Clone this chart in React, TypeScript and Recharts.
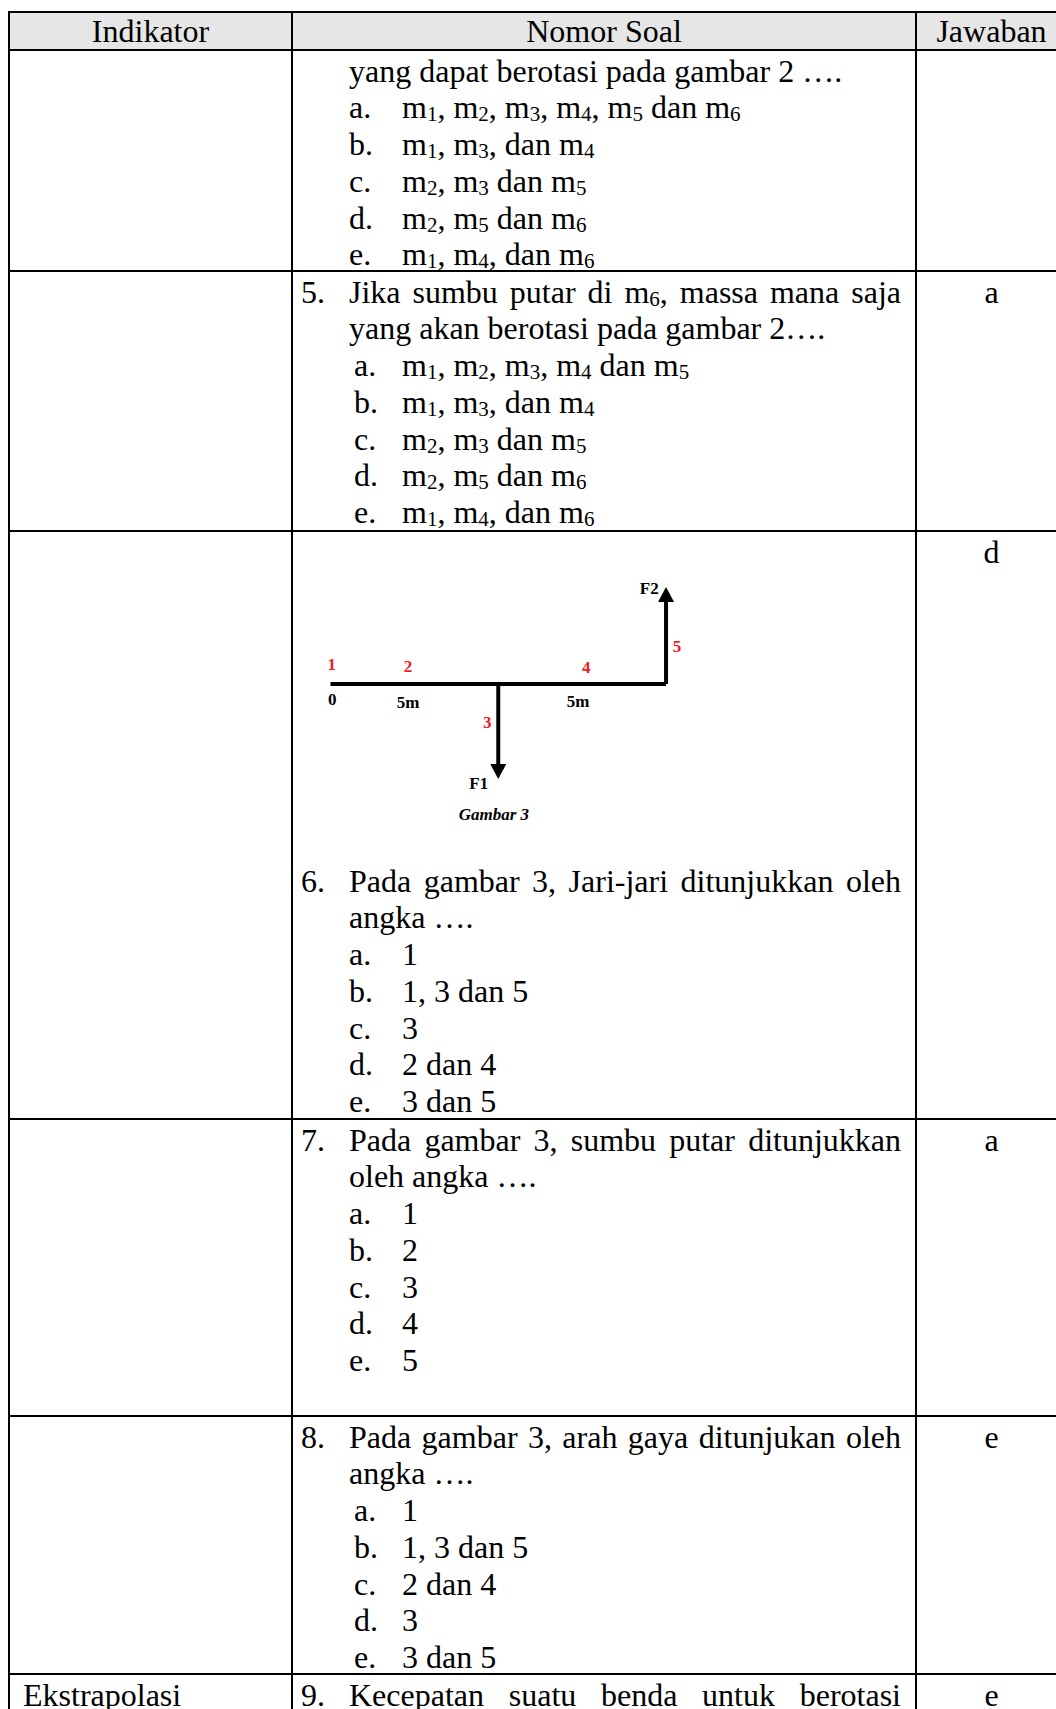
import { FC, ReactNode } from "react";
import { ComposedChart, Line, Scatter, XAxis, YAxis } from "recharts";

// table text
const headers = ["Indikator", "Nomor Soal", "Jawaban"];
const indicators = ["", "", "", "", "", "Ekstrapolasi"];
const answers = ["", "a", "d", "a", "e", "e"];
const numbers = ["", "5.", "6.", "7.", "8.", "9."];
const stems = [
    ["yang dapat berotasi pada gambar 2 …."],
    ["Jika sumbu putar di m6, massa mana saja", "yang akan berotasi pada gambar 2…."],
    ["Pada gambar 3, Jari-jari ditunjukkan oleh", "angka …."],
    ["Pada gambar 3, sumbu putar ditunjukkan", "oleh angka …."],
    ["Pada gambar 3, arah gaya ditunjukan oleh", "angka …."],
    ["Kecepatan suatu benda untuk berotasi"],
];
const optionLetters = ["a.", "b.", "c.", "d.", "e."];
const options = [
    ["m1, m2, m3, m4, m5 dan m6", "m1, m3, dan m4", "m2, m3 dan m5", "m2, m5 dan m6", "m1, m4, dan m6"],
    ["m1, m2, m3, m4 dan m5", "m1, m3, dan m4", "m2, m3 dan m5", "m2, m5 dan m6", "m1, m4, dan m6"],
    ["1", "1, 3 dan 5", "3", "2 dan 4", "3 dan 5"],
    ["1", "2", "3", "4", "5"],
    ["1", "1, 3 dan 5", "2 dan 4", "3", "3 dan 5"],
    [],
];
const optionIndent = [56, 61, 56, 56, 61, 56];
const rowHeights = [219, 258, 586, 295, 256, 58];

// figure data, in metres along the beam
const beam = [{ x: 0, y: 0 }, { x: 10, y: 0 }];
const stem = [{ x: 5, y: 0 }, { x: 5, y: -2.6 }];
const arm = [{ x: 10, y: 0 }, { x: 10, y: 2.6 }];
const arrowTips = [{ x: 5, y: -2.83, dir: 1 }, { x: 10, y: 2.89, dir: -1 }];
const redLabels = [
    { x: 0.04, y: 0.6, text: "1" },
    { x: 2.31, y: 0.52, text: "2" },
    { x: 4.67, y: -1.14, text: "3" },
    { x: 7.62, y: 0.49, text: "4" },
    { x: 10.33, y: 1.13, text: "5" },
];
const blackLabels = [
    { x: 0.05, y: -0.45, text: "0" },
    { x: 2.31, y: -0.55, text: "5m" },
    { x: 7.38, y: -0.52, text: "5m" },
    { x: 4.42, y: -2.95, text: "F1" },
    { x: 9.5, y: 2.87, text: "F2" },
];
const captionLabels = [{ x: 4.87, y: -3.87, text: "Gambar 3" }];

const FONT = '"Liberation Serif", "Times New Roman", serif';
const LINE = 36.8;

const withSubs = (text: string): ReactNode[] =>
    text.split(/(?<=m)(\d)/).map((part, i) =>
        i % 2 === 1 ? <span key={i} style={{ fontSize: 21, verticalAlign: -3, lineHeight: 0 }}>{part}</span> : part
    );

const labelShape = (fill: string, size: number, italic = false) => (props: any) => (
    <text x={props.cx} y={props.cy} dy="0.35em" textAnchor="middle" fill={fill} fontSize={size}
        fontFamily={FONT} fontWeight="bold" fontStyle={italic ? "italic" : "normal"}>
        {props.payload.text}
    </text>
);

const arrowShape = (props: any) => {
    const { cx, cy, payload } = props;
    const d = payload.dir;
    return <path d={`M${cx},${cy} L${cx - 8},${cy - 15 * d} L${cx + 8},${cy - 15 * d} Z`} fill="#000" />;
};

const Figure: FC = () => (
    <ComposedChart width={420} height={300} margin={{ top: 0, right: 0, bottom: 0, left: 0 }}>
        <XAxis dataKey="x" type="number" domain={[-1.177, 11.34]} hide />
        <YAxis dataKey="y" type="number" domain={[-4.68, 4.262]} hide />
        <Line data={beam} dataKey="y" stroke="#000" strokeWidth={4} dot={false} isAnimationActive={false} />
        <Line data={stem} dataKey="y" stroke="#000" strokeWidth={4} dot={false} isAnimationActive={false} />
        <Line data={arm} dataKey="y" stroke="#000" strokeWidth={4} dot={false} isAnimationActive={false} />
        <Scatter data={arrowTips} shape={arrowShape} isAnimationActive={false} />
        <Scatter data={redLabels} shape={labelShape("#f01c24", 17)} isAnimationActive={false} />
        <Scatter data={blackLabels} shape={labelShape("#000", 17)} isAnimationActive={false} />
        <Scatter data={captionLabels} shape={labelShape("#000", 17, true)} isAnimationActive={false} />
    </ComposedChart>
);

const Question: FC<{ row: number }> = ({ row }) => (
    <div>
        {stems[row].map((line, i) => {
            const justified = i === 0 && numbers[row] !== "";
            return (
                <div key={i} style={{ position: "relative", height: LINE, paddingLeft: 56 }}>
                    {i === 0 && <span style={{ position: "absolute", left: 8 }}>{numbers[row]}</span>}
                    <div style={{
                        width: 552,
                        textAlign: justified ? "justify" : "left",
                        textAlignLast: justified ? "justify" : "left",
                    }}>
                        {withSubs(line)}
                    </div>
                </div>
            );
        })}
        {options[row].map((opt, i) => (
            <div key={i} style={{ position: "relative", height: LINE }}>
                <span style={{ position: "absolute", left: optionIndent[row] }}>{optionLetters[i]}</span>
                <span style={{ position: "absolute", left: 109 }}>{withSubs(opt)}</span>
            </div>
        ))}
    </div>
);

const App: FC = () => {
    const cell = { border: "2px solid #000", padding: 0, verticalAlign: "top" } as const;
    return (
        <div style={{
            position: "absolute", left: 0, top: 0, width: 1056, height: 1709, overflow: "hidden",
            background: "#fff", color: "#000", fontFamily: FONT, fontSize: 32, lineHeight: "37px",
        }}>
            <table style={{
                position: "absolute", left: 8, top: 11, width: 1058, borderCollapse: "collapse", tableLayout: "fixed",
            }}>
                <colgroup>
                    <col style={{ width: 283 }} />
                    <col style={{ width: 624 }} />
                    <col style={{ width: 151 }} />
                </colgroup>
                <thead>
                    <tr style={{ background: "#e7e6e6" }}>
                        {headers.map((h) => (
                            <th key={h} style={{ ...cell, fontWeight: "normal", textAlign: "center", lineHeight: "36px" }}>{h}</th>
                        ))}
                    </tr>
                </thead>
                <tbody>
                    {rowHeights.map((height, row) => (
                        <tr key={row}>
                            <td style={cell}>
                                <div style={{ height, paddingTop: 1.5, paddingLeft: 13, boxSizing: "border-box" }}>{indicators[row]}</div>
                            </td>
                            <td style={cell}>
                                <div style={{ height, paddingTop: 1.5, boxSizing: "border-box", position: "relative" }}>
                                    {row === 2 && (
                                        <div style={{ height: 329, position: "relative" }}>
                                            <div style={{ position: "absolute", left: -2, top: 7 }}><Figure /></div>
                                        </div>
                                    )}
                                    <Question row={row} />
                                </div>
                            </td>
                            <td style={cell}>
                                <div style={{ height, paddingTop: 1.5, textAlign: "center", boxSizing: "border-box" }}>{answers[row]}</div>
                            </td>
                        </tr>
                    ))}
                </tbody>
            </table>
        </div>
    );
};

export default App;
